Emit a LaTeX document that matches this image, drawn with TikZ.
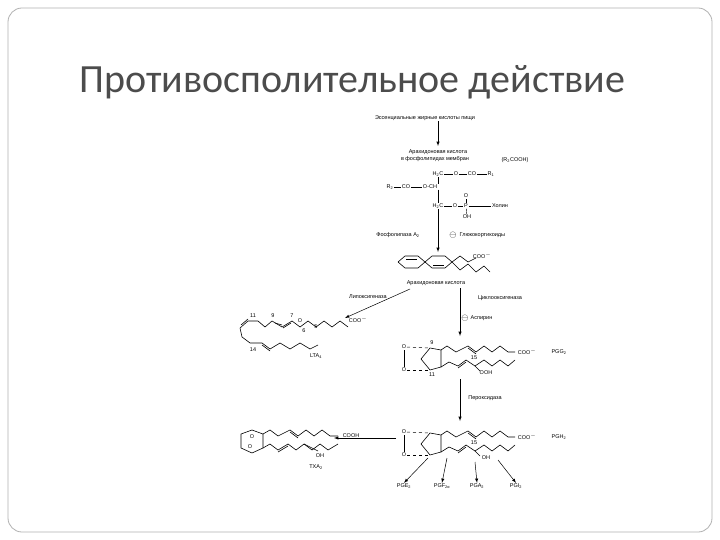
\documentclass[tikz,border=0pt]{standalone}
\usepackage{fontspec}
\setmainfont{Liberation Sans}
\newfontfamily\titlefont{Carlito}
\newcommand{\sbs}[1]{\textsubscript{#1}}
\begin{document}
\begin{tikzpicture}[x=1pt,y=-1pt,
  lbl/.style={font=\fontsize{5.5}{6}\selectfont,inner sep=0.5pt},
  bond/.style={line width=0.6pt},
  arr/.style={->,>=latex,line width=0.5pt},
  dbond/.style={dashed,line width=0.5pt}]
\useasboundingbox (0,0) rectangle (720,540);
\fill[white] (0,0) rectangle (720,540);
\draw[gray!60,line width=0.8pt,rounded corners=14pt] (8,8) rectangle (712,532);
\node[font=\titlefont\fontsize{40}{44}\selectfont,text=black!70,anchor=west] (title) at (76,82) {Противосполительное действие};
% top
\node[lbl] (t1) at (425,118) {Эссенциальные жирные кислоты пищи};
\node[lbl] (t2) at (438,152) {Арахидоновая кислота};
\node[lbl] (t3) at (435,159) {в фосфолипидах мембран};
\node[lbl] (t4) at (515,160) {(R\sbs{2}COOH)};
\draw[arr] (t1.south -| 438,0) -- (438,146);
\node[lbl] (h2c1) at (438,174) {H\sbs{2}C};
\node[lbl] (o1) at (456,174) {O};
\node[lbl] (co1) at (472,174) {CO};
\node[lbl] (r1) at (491,174) {R\sbs{1}};
\draw (h2c1) -- (o1) -- (co1) -- (r1);
\node[lbl] (r2) at (390,187) {R\sbs{2}};
\node[lbl] (co2) at (406,187) {CO};
\node[lbl] (och) at (430,187) {O-CH};
\draw (r2) -- (co2) -- (och);
\node[lbl] (h2c2) at (438,206) {H\sbs{2}C};
\node[lbl] (o2) at (455,206) {O};
\node[lbl] (p) at (466,206) {P};
\node[lbl] (po) at (466,196) {O};
\node[lbl] (poh) at (467,217) {OH};
\node[lbl] (chol) at (500,206) {Холин};
\draw (h2c2) -- (o2) -- (p) -- (chol);
\draw (p) -- (po); \draw (p) -- (poh);
\draw (h2c1) -- (och.north -| 438,0);
\draw (och.south -| 438,0) -- (h2c2);
\coordinate (aa) at (438,252);
\draw[arr] (h2c2) -- (aa);
\node[lbl] (pla) at (398,235) {Фосфолипаза A\sbs{2}};
\node[lbl,font=\fontsize{9}{9}\selectfont] (m1) at (453,235) {$\ominus$};
\node[lbl,anchor=west] (gk) at (459,235) {Глюкокортикоиды};
% arachidonic acid
\draw[bond] (398,262)--(405,256)--(418,256)--(425,262)--(432,256)--(445,256)--(452,262)--(460,256)--(468,262)--(476,258);
\draw[bond] (398,262)--(405,268)--(418,268)--(425,262)--(432,268)--(445,268)--(452,262);
\draw[bond] (452,262)--(460,270)--(468,264)--(476,272)--(484,266)--(490,272);
\draw[bond] (406,259)--(417,259); \draw[bond] (433,265)--(444,265);
\node[lbl] (coo0) at (482,256) {COO$^-$};
\node[lbl] (aatxt) at (436,283) {Арахидоновая кислота};
\node[lbl] (lox) at (368,297) {Липоксигеназа};
\node[lbl] (cox) at (500,298) {Циклооксигеназа};
\node[lbl,font=\fontsize{9}{9}\selectfont] (m2) at (465,318) {$\ominus$};
\node[lbl,anchor=west] (asp) at (470,318) {Аспирин};
\coordinate (ltaend) at (345,318);
\draw[arr] (410,289) -- (ltaend);
\coordinate (pgg) at (460,336);
\draw[arr] (460,288) -- (pgg);
% LTA4
\draw[bond] (240,328)--(248,321)--(258,321)--(265,327)--(272,321)--(282,327)--(292,321)--(300,327)--(308,321)--(316,327)--(324,321)--(332,327)--(340,321)--(348,327);
\draw[bond] (241,325)--(248,319); \draw[bond] (275,323)--(282,325); \draw[bond] (291,323)--(283,328);
\draw[bond] (240,328)--(242,337)--(250,343)--(262,343)--(270,349)--(280,343)--(290,349)--(300,343)--(310,349)--(318,345);
\draw[bond] (262,345)--(270,351);
\node[lbl] at (253,316) {11}; \node[lbl] at (273,316) {9}; \node[lbl] at (292,316) {7};
\node[lbl,fill=white] at (300,321) {O}; \node[lbl] at (304,331) {6}; \node[lbl] at (316,327) {5};
\node[lbl] at (253,350) {14};
\node[lbl] (coo1) at (358,320) {COO$^-$};
\node[lbl] (lta) at (316,356) {LTA\sbs{4}};
% PGG2 and PGH2
\foreach \dy/\nam/\lo in {0/PGG/OOH,85/PGH/OH}{
\begin{scope}[yshift=-\dy]
\draw[bond] (430,348)--(441,350)--(441,367)--(430,370)--(421,359)--cycle;
\node[lbl] at (404,347) {O}; \node[lbl] at (404,370) {O};
\draw[bond] (404,350)--(404,367);
\draw[dbond] (407,347)--(430,348); \draw[dbond] (407,370)--(430,370);
\draw[bond] (441,350)--(447,346)--(456,352)--(468,346)--(476,352)--(484,346)--(492,352)--(500,346)--(508,352)--(515,352);
\draw[bond] (468,348)--(476,354);
\draw[bond] (441,367)--(449,362)--(458,366)--(466,360)--(475,366)--(484,360)--(492,366)--(500,360)--(508,366)--(515,360);
\draw[bond] (458,368)--(466,362);
\draw[bond] (475,366)--(480,371);
\node[lbl] at (527,352) {COO$^-$};
\node[lbl] at (474,358) {15};
\node[lbl] at (486,373) {\lo};
\node[lbl] at (559,352) {\nam\sbs{2}};
\end{scope}}
\node[lbl] at (432,343) {9}; \node[lbl] at (432,375) {11};
\node[lbl] (perox) at (485,398) {Пероксидаза};
\coordinate (pgh) at (460,421);
\draw[arr] (460,379) -- (pgh);
% TXA2
\coordinate (txa) at (334,438);
\draw[arr] (396,438) -- (txa);
\draw[bond] (252,430)--(263,434)--(263,448)--(252,453)--(241,448)--(241,434)--cycle;
\node[lbl,fill=white] at (252,437) {O}; \node[lbl,fill=white] at (250,447) {O};
\draw[bond] (263,434)--(270,430)--(278,436)--(290,430)--(298,436)--(306,430)--(314,436)--(322,430)--(330,436)--(338,436);
\draw[bond] (290,432)--(298,438);
\draw[bond] (263,448)--(270,444)--(278,450)--(288,444)--(296,450)--(304,444)--(312,450)--(320,444)--(328,450)--(338,444);
\draw[bond] (278,452)--(288,446);
\draw[bond] (304,444)--(318,451);
\node[lbl] (cooh) at (351,436) {COOH};
\node[lbl] at (320,456) {OH};
\node[lbl] (txat) at (316,467) {TXA\sbs{2}};
% products
\node[lbl] (pge) at (404,486) {PGE\sbs{2}};
\node[lbl] (pgf) at (442,486) {PGF\sbs{2α}};
\node[lbl] (pga) at (477,486) {PGA\sbs{2}};
\node[lbl] (pgi) at (516,486) {PGI\sbs{2}};
\draw[arr] (428,458) -- (pge.north);
\draw[arr] (447,458) -- (pgf.north);
\draw[arr] (475,462) -- (pga.north);
\draw[arr] (498,460) -- (pgi.north);
\end{tikzpicture}
\end{document}
